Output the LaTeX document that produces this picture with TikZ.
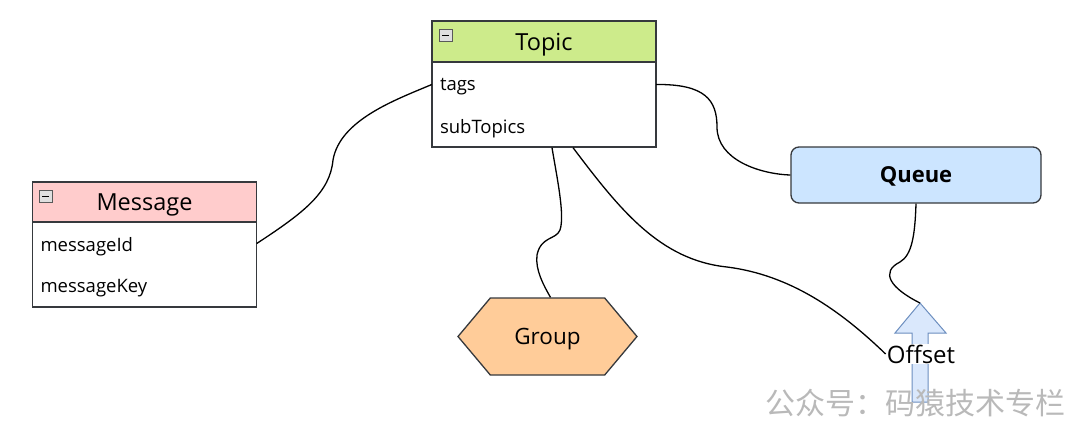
\documentclass[tikz,border=0pt]{standalone}
\usepackage{fontspec}
\setmainfont{Open Sans}
\newfontfamily\cjkfont{Noto Sans CJK SC}
\usepackage{xcolor}
\usepackage{tikz}
\usetikzlibrary{calc,shapes.symbols}
\definecolor{edgex}{HTML}{36393D}
\definecolor{topicg}{HTML}{CDEB8B}
\definecolor{msgpink}{HTML}{FFCCCC}
\definecolor{queueblue}{HTML}{CCE5FF}
\definecolor{grouporange}{HTML}{FFCC99}
\definecolor{offfill}{HTML}{DAE8FC}
\definecolor{offdraw}{HTML}{6C8EBF}
\tikzset{
  hdr/.style={draw=edgex,line width=1.3pt,minimum width=224pt,minimum height=41pt,inner sep=0pt,text depth=0pt,font=\fontsize{23.5}{27}\selectfont},
  bodybox/.style={draw=edgex,line width=1.3pt,fill=white,minimum width=224pt,minimum height=85pt,inner sep=0pt},
  row/.style={minimum width=224pt,text width=208pt,minimum height=42pt,inner sep=0pt,align=left,yshift=-3pt,font=\fontsize{18.5}{22}\selectfont},
  link/.style={black,line width=1.3pt},
  minusbox/.style={draw=gray!70!black,fill=gray!25,line width=0.6pt}
}
\begin{document}
\begin{tikzpicture}[x=1pt,y=-1pt]
\useasboundingbox (0,0) rectangle (1080,426);
% topic table
\node[hdr,fill=topicg] (topic) at (544,41.5) {Topic};
\node[bodybox] (topicbody) at (544,104.5) {};
\node[row] (tags) at (544,83.5) {tags};
\node[row] (subtopics) at (544,125.5) {subTopics};
\draw[minusbox] (439,29) rectangle (452,41);
\draw[line width=1pt] (442,35) -- (449,35);
% message table
\node[hdr,fill=msgpink] (msg) at (144.5,202.5) {Message};
\node[bodybox] (msgbody) at (144.5,264.5) {};
\node[row] (msgid) at (144.5,243.5) {messageId};
\node[row] (msgkey) at (144.5,285.5) {messageKey};
\draw[minusbox] (39,190) rectangle (52,202);
\draw[line width=1pt] (42,196) -- (49,196);
% queue, group, offset
\node[draw=edgex,line width=1.3pt,fill=queueblue,rounded corners=8pt,minimum width=250pt,minimum height=56pt,text depth=0pt,font=\bfseries\fontsize{22}{26}\selectfont] (queue) at (916,175) {Queue};
\node[draw=edgex,line width=1.3pt,fill=grouporange,shape=signal,signal to=west and east,signal pointer angle=100,minimum width=179pt,minimum height=77pt,inner sep=0pt,text depth=0pt,font=\fontsize{22.5}{26}\selectfont] (group) at (547.5,336.5) {Group};
\draw[draw=offdraw,fill=offfill,line width=1pt] (912,402) -- (912,333) -- (895,333) -- (920,303) -- (946,333) -- (928,333) -- (928,402) -- cycle;
\coordinate (offtip) at (920,303);
\node[fill=white,inner sep=1pt,font=\fontsize{24}{28}\selectfont] (offset) at (921,354) {Offset};
% links
\draw[link] ([yshift=3pt]msgid.east) .. controls (305,212) and (330,192) .. (333,160) .. controls (340,120) and (395,100) .. ([yshift=2pt]tags.west);
\draw[link] ([yshift=2pt]tags.east) .. controls (705,84) and (717,100) .. (717,127) .. controls (717,160) and (760,174) .. (queue.west);
\draw[link] ([xshift=8pt]topicbody.south) .. controls (557,178) and (565,215) .. (560,230) .. controls (556,240) and (541,236) .. (537,255) .. controls (535,270) and (544,286) .. ([xshift=3pt]group.north);
\draw[link] ([xshift=29pt]topicbody.south) .. controls (620,210) and (660,260) .. (727,267) .. controls (790,275) and (840,310) .. (offset.west);
\draw[link] (queue.south) .. controls (915,235) and (912,255) .. (900,262) .. controls (880,272) and (890,288) .. (offtip);
% watermark
\node[text=gray!55,font=\cjkfont\fontsize{30}{33}\selectfont] (mark) at (915,403) {公众号：码猿技术专栏};
\end{tikzpicture}
\end{document}
